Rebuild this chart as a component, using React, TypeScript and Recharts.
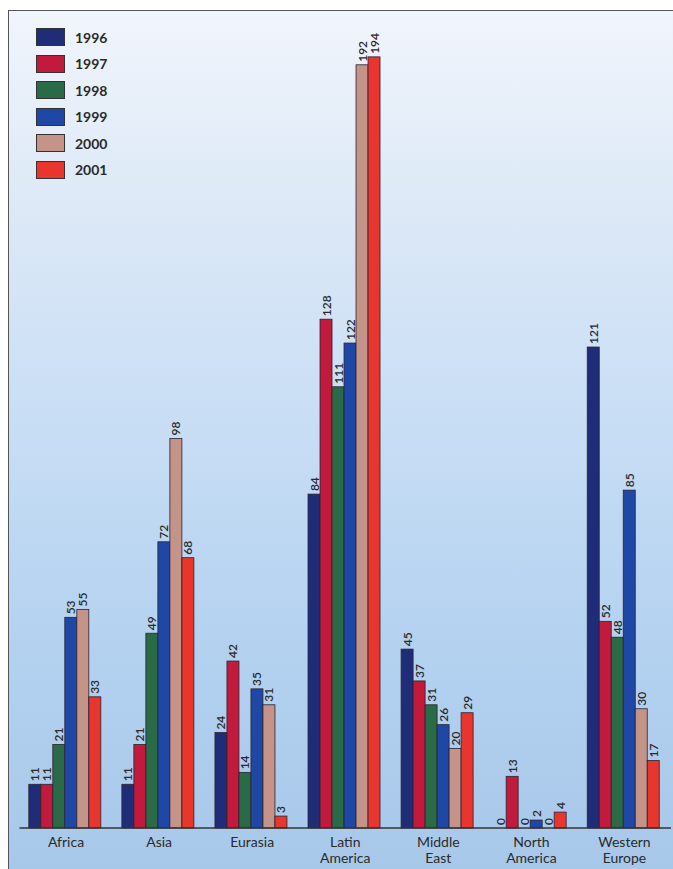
import React from "react";
import { BarChart, Bar, XAxis, YAxis } from "recharts";

const categories = ["Africa", "Asia", "Eurasia", "Latin America", "Middle East", "North America", "Western Europe"];
const years = ["1996", "1997", "1998", "1999", "2000", "2001"];
const v1996 = [11, 11, 24, 84, 45, 0, 121];
const v1997 = [11, 21, 42, 128, 37, 13, 52];
const v1998 = [21, 49, 14, 111, 31, 0, 48];
const v1999 = [53, 72, 35, 122, 26, 2, 85];
const v2000 = [55, 98, 31, 192, 20, 0, 30];
const v2001 = [33, 68, 3, 194, 29, 4, 17];
const seriesValues = [v1996, v1997, v1998, v1999, v2000, v2001];
const colors = ["#1f2c78", "#c11a3c", "#2a6a47", "#1f48a6", "#c49489", "#e8362e"];

const data = categories.map((c, i) => {
  const row: any = { name: c };
  years.forEach((y, j) => {
    row["y" + y] = seriesValues[j][i];
  });
  return row;
});

const FONT = "'Lato', 'DejaVu Sans', sans-serif";

const makeShape = (color: string) => (props: any) => {
  const { x, y, width, height, value } = props;
  const v = Array.isArray(value) ? value[1] - value[0] : value;
  const cx = x + width / 2 + 4.5;
  const ty = y - 3;
  return (
    <g>
      {height > 0 && (
        <rect x={x} y={y} width={width} height={height} fill={color} stroke="#2a2230" strokeWidth={0.8} />
      )}
      <text
        x={cx}
        y={ty}
        transform={`rotate(-90 ${cx} ${ty})`}
        textAnchor="start"
        fontSize={12}
        fontWeight={600}
        fontFamily={FONT}
        fill="#2a2a2a"
      >
        {v}
      </text>
    </g>
  );
};

const CatTick = (props: any) => {
  const { x, y, payload } = props;
  const words = String(payload.value).split(" ");
  return (
    <g>
      {words.map((w: string, i: number) => (
        <text
          key={i}
          x={x}
          y={y + 11 + i * 15.5}
          textAnchor="middle"
          fontSize={14}
          fontFamily={FONT}
          fill="#2b2b2b"
        >
          {w}
        </text>
      ))}
    </g>
  );
};

const LegendBox = () => (
  <div style={{ position: "absolute", left: 27, top: 17 }}>
    {years.map((y, i) => (
      <div key={y} style={{ position: "absolute", top: i * 26.5, left: 0, display: "flex", alignItems: "center", whiteSpace: "nowrap" }}>
        <div style={{ width: 29, height: 18, background: colors[i], border: "1px solid #333", boxSizing: "border-box" }} />
        <span style={{ marginLeft: 10, fontFamily: FONT, fontSize: 14, fontWeight: 700, color: "#2a2a2a" }}>{y}</span>
      </div>
    ))}
  </div>
);

export default function App() {
  return (
    <div
      style={{
        position: "fixed",
        left: 8,
        top: 10,
        width: 665,
        height: 859,
        borderTop: "1.5px solid #555",
        borderLeft: "1.5px solid #555",
        boxSizing: "border-box",
        background: "linear-gradient(to bottom, #f1f5fc 0%, #dde9f7 22%, #c5dcf4 52%, #b4d2f0 73%, #a8c8ea 100%)",
      }}
    >
      <LegendBox />
      <div style={{ position: "absolute", left: -1.5, top: -1.5 }}>
        <BarChart
          width={665}
          height={859}
          data={data}
          margin={{ top: 23, right: 2, bottom: 0, left: 11.5 }}
          barCategoryGap="10%"
          barGap={0}
        >
          <XAxis
            dataKey="name"
            interval={0}
            tickLine={false}
            axisLine={{ stroke: "#333", strokeWidth: 1.5 }}
            tick={<CatTick />}
            height={41}
          />
          <YAxis hide domain={[0, 200]} />
          {years.map((y, i) => (
            <Bar
              key={y}
              dataKey={"y" + y}
              fill={colors[i]}
              shape={makeShape(colors[i])}
              isAnimationActive={false}
            />
          ))}
        </BarChart>
      </div>
    </div>
  );
}
